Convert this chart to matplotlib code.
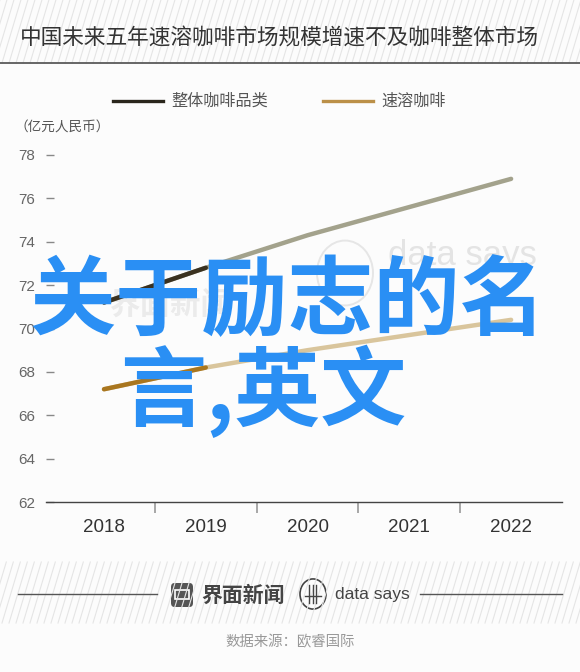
import matplotlib

matplotlib.use("Agg")
import matplotlib.pyplot as plt
from matplotlib.lines import Line2D
from matplotlib.patches import Circle, FancyBboxPatch, Rectangle

plt.rcParams["font.family"] = ["Noto Sans CJK SC", "DejaVu Sans"]

# data
years = ["2018", "2019", "2020", "2021", "2022"]
overall = [71.2, 72.8, 74.3, 75.6, 76.9]
instant = [67.2, 68.2, 69.0, 69.7, 70.4]
y_ticks = [62, 64, 66, 68, 70, 72, 74, 76, 78]
series_names = ["整体咖啡品类", "速溶咖啡"]

W, H = 580, 672


def fx(x):
    return x / W


def fy(y):
    return 1 - y / H


fig = plt.figure(figsize=(W / 100, H / 100), dpi=100)
fig.patch.set_facecolor("#fcfcfc")


def hatch_band(top, bottom):
    for x0 in range(-40, W + 20, 7):
        fig.add_artist(Line2D([fx(x0), fx(x0 + (bottom - top) * 0.3)],
                              [fy(bottom), fy(top)], color="#e5e5e5", lw=0.8))


# header
hatch_band(0, 63)
fig.add_artist(Line2D([0, 1], [fy(63), fy(63)], color="#666666", lw=1.4))
fig.text(fx(20), fy(39), "中国未来五年速溶咖啡市场规模增速不及咖啡整体市场",
         fontsize=15.6, color="#333333", va="center", ha="left")

# legend
fig.add_artist(Line2D([fx(113), fx(163)], [fy(101), fy(101)], color="#2a261c", lw=2.4))
fig.text(fx(171), fy(101), series_names[0], fontsize=11.6, color="#555555", va="center")
fig.add_artist(Line2D([fx(323), fx(373)], [fy(101), fy(101)], color="#bb9048", lw=2.4))
fig.text(fx(381), fy(101), series_names[1], fontsize=11.6, color="#555555", va="center")
fig.text(fx(14), fy(128), "（亿元人民币）", fontsize=9.8, color="#555555", va="center")

# plot area
ax = fig.add_axes([fx(46), fy(502), (562 - 46) / W, (502 - 155) / H])
ax.set_facecolor("none")
x = list(range(len(years)))
ax.set_xlim(-0.57, 4.5)
ax.set_ylim(62, 78)

# watermark inside the plot, under the lines
ax.add_artist(Circle((fx(345), fy(273)), 28 / W, transform=fig.transFigure,
                     fill=False, ec="#e6e6e6", lw=1.4, zorder=0))
ax.text(fx(388), fy(256), "data says", fontsize=25, color="#e4e4e4",
        family=["Liberation Sans"], va="center", transform=fig.transFigure, zorder=0)
ax.text(fx(170), fy(305), "界面新闻", fontsize=22, color="#ebebeb",
        fontweight="bold", va="center", ha="center", transform=fig.transFigure, zorder=0)

ax.plot(x, overall, color="#a3a28c", lw=3.2, solid_capstyle="round", clip_on=False, zorder=2)
ax.plot(x[:2], overall[:2], color="#3a3120", lw=3.2, solid_capstyle="round", clip_on=False, zorder=3)
ax.plot(x, instant, color="#d9c59c", lw=3.2, solid_capstyle="round", clip_on=False, zorder=2)
ax.plot(x[:2], instant[:2], color="#a9761f", lw=3.2, solid_capstyle="round", clip_on=False, zorder=3)

for side in ["top", "right", "left"]:
    ax.spines[side].set_visible(False)
ax.spines["bottom"].set_color("#444444")
ax.spines["bottom"].set_linewidth(1.0)

ax.set_yticks(y_ticks)
ax.set_yticklabels([str(v) for v in y_ticks], family=["Liberation Sans"], fontsize=11, color="#666666")
ax.tick_params(axis="y", direction="in", length=6, width=1, color="#888888", pad=8)

ax.set_xticks(x)
ax.set_xticklabels(years, family=["Liberation Sans"], fontsize=13.5, color="#333333")
ax.tick_params(axis="x", which="major", length=0, pad=12)
ax.set_xticks([0.5, 1.5, 2.5, 3.5], minor=True)
ax.tick_params(axis="x", which="minor", direction="out", length=8, width=1.2, color="#999999")

# overlay caption
fig.text(fx(288), fy(303), "关于励志的名", fontsize=62, color="#2a8ff4",
         fontweight="bold", ha="center", va="center")
fig.text(fx(120), fy(391), "言,英文", fontsize=62, color="#2a8ff4",
         fontweight="bold", ha="left", va="center")

# footer
hatch_band(562, 623)
fig.add_artist(Line2D([fx(18), fx(157)], [fy(594), fy(594)], color="#555555", lw=1))
fig.add_artist(Line2D([fx(420), fx(562)], [fy(594), fy(594)], color="#555555", lw=1))
fig.add_artist(FancyBboxPatch((fx(171), fy(607)), 22 / W, 24 / H,
                              boxstyle="round,pad=0,rounding_size=0.006",
                              transform=fig.transFigure, fc="#555555", ec="none"))
fig.add_artist(Rectangle((fx(175), fy(599)), 14 / W, 9 / H, transform=fig.transFigure,
                         fc="none", ec="white", lw=1.2))
fig.text(fx(201), fy(595), "界面新闻", fontsize=15, color="#444444",
         fontweight="bold", va="center")
fig.add_artist(Circle((fx(313), fy(594)), 13 / W, transform=fig.transFigure,
                      fill=False, ec="#444444", lw=1.2))
for dx in (-4, 0, 3):
    fig.add_artist(Line2D([fx(313 + dx), fx(313 + dx)], [fy(585), fy(603)],
                          color="#444444", lw=1))
fig.add_artist(Line2D([fx(305), fx(321)], [fy(596), fy(596)], color="#444444", lw=1))
fig.text(fx(335), fy(594), "data says", fontsize=12.5, color="#444444",
         family=["Liberation Sans"], va="center")

fig.text(fx(290), fy(642), "数据来源：欧睿国际", fontsize=10.4, color="#999999",
         ha="center", va="center")

fig.savefig("out.png", dpi=100, facecolor=fig.get_facecolor())
